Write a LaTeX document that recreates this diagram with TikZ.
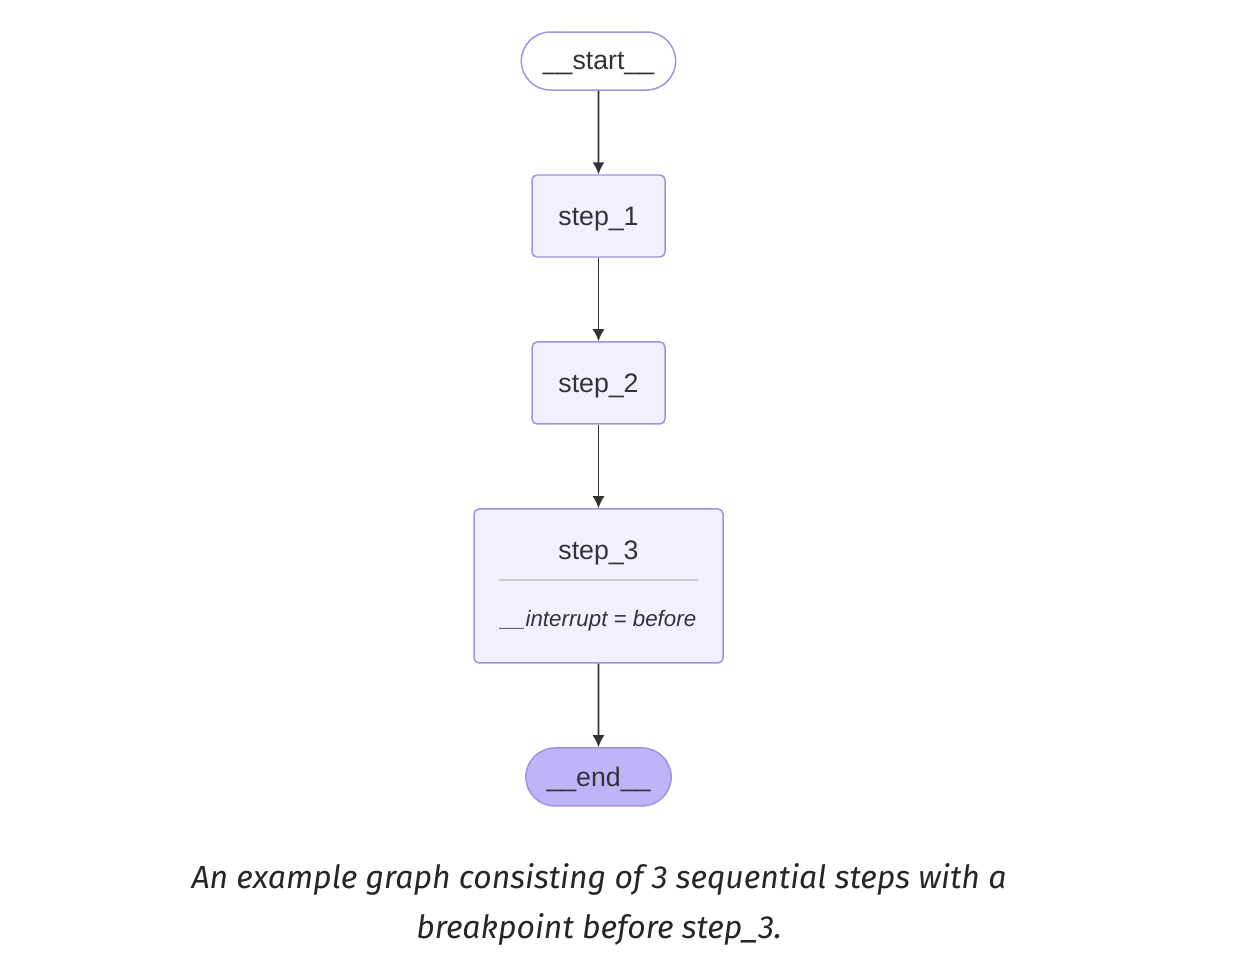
\documentclass[tikz,border=0pt]{standalone}
\usepackage{fontspec}
\setmainfont{Liberation Sans}
\newfontfamily\captionfont[Numbers=Lining]{Fira Sans}
\usetikzlibrary{positioning,shapes,arrows.meta,calc}
\definecolor{nodefill}{HTML}{F2F0FF}
\definecolor{nodeborder}{HTML}{A58FE3}
\definecolor{endfill}{HTML}{BDB5F8}
\definecolor{edgecolor}{HTML}{333333}
\definecolor{labelcolor}{HTML}{333333}
\definecolor{sepcolor}{HTML}{CCCCCC}
\tikzstyle{TermNode}=[rounded rectangle, draw=nodeborder, line width=0.85pt, minimum height=1.16cm, text=labelcolor, text depth=0pt, font=\fontsize{15.2}{18}\selectfont]
\tikzstyle{StepNode}=[rectangle, rounded corners=0.1cm, draw=nodeborder, fill=nodefill, line width=0.85pt, minimum width=2.66cm, minimum height=1.64cm, text=labelcolor, text depth=0pt, font=\fontsize{15.2}{18}\selectfont]
\tikzstyle{LabelText}=[text=labelcolor, text depth=0pt]
\tikzstyle{Edge}=[-{Latex[length=0.24cm,width=0.24cm]}, draw=edgecolor, line width=1pt]

\begin{document}
\begin{tikzpicture}[node distance=1.67cm]

    \useasboundingbox (0,0) rectangle (24.76,-19.36);

    \node (Start) [TermNode, fill=white, minimum width=3.32cm] at (11.97,-1.22) {\_\_start\_\_};
    \node (Step1) [StepNode, below=of Start] {step\_1};
    \node (Step2) [StepNode, below=of Step1] {step\_2};
    \node (Step3) [StepNode, minimum width=4.98cm, minimum height=3.08cm, below=of Step2] {};
    \node (Step3Title) [LabelText, font=\fontsize{15.2}{18}\selectfont] at ($(Step3.north)+(0,-0.84)$) {step\_3};
    \node (Step3Attr) [LabelText, font=\itshape\fontsize{12.7}{15}\selectfont] at ($(Step3.north)+(0,-2.2)$) {\_\_interrupt = before};
    \coordinate (SepLeft) at ($(Step3.north west)+(0.52,-1.43)$);
    \coordinate (SepRight) at ($(Step3.north east)+(-0.52,-1.43)$);
    \node (End) [TermNode, fill=endfill, minimum width=3.14cm, below=of Step3] {\_\_end\_\_};

    \node (Caption) [align=center, text=black!85, font=\captionfont\itshape\fontsize{18.2}{28.9}\selectfont] at (11.98,-18.09)
    {An example graph consisting of 3 sequential steps with a\\ breakpoint before step\_3.};

    \draw [sepcolor, line width=1pt] (SepLeft) -- (SepRight);

    \draw [Edge] (Start) -- (Step1);
    \draw [Edge] (Step1) -- (Step2);
    \draw [Edge] (Step2) -- (Step3);
    \draw [Edge] (Step3) -- (End);

  \end{tikzpicture}
\end{document}
